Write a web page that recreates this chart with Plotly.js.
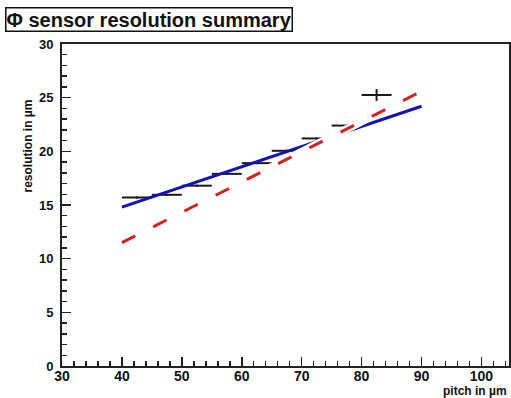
<!DOCTYPE html>
<html>
<head>
<meta charset="utf-8">
<script src="https://cdn.plot.ly/plotly-3.0.1.min.js"></script>
<style>html,body{margin:0;padding:0;background:#fff;}#chart{width:511px;height:398px;}</style>
</head>
<body>
<div id="chart"></div>
<script>
// Measured points (pitch bins, µm) and resolution (µm)
const pitch = [42.5, 47.5, 52.5, 57.5, 62.5, 67.5, 72.5, 77.5, 82.5];
const pitchErr = [2.5, 2.5, 2.5, 2.5, 2.5, 2.5, 2.5, 2.5, 2.5];
const resolution = [15.7, 15.95, 16.8, 17.9, 18.9, 20.05, 21.2, 22.4, 25.25];
const resolutionErr = [0.1, 0.1, 0.1, 0.1, 0.1, 0.1, 0.1, 0.1, 0.55];

// Fit line (blue, solid)
const fitX = [40, 90];
const fitY = [14.8, 24.2];
// Expectation line (red, dashed)
const expX = [40, 90];
const expY = [11.5, 25.6];

const titleText = "\u03A6 sensor resolution summary";
const xTitle = "pitch in \u00B5m";
const yTitle = "resolution in \u00B5m";

const font = "Liberation Sans, Arial, Helvetica, sans-serif";

const traces = [
  {x: pitch, y: resolution, type: 'scatter', mode: 'markers',
   marker: {size: 1, color: 'rgba(0,0,0,0)'},
   error_x: {type: 'data', array: pitchErr, visible: true, color: '#1a1a1a', thickness: 2, width: 0},
   error_y: {type: 'data', array: resolutionErr, visible: true, color: '#1a1a1a', thickness: 2, width: 0},
   hoverinfo: 'skip', showlegend: false},
  {x: fitX, y: fitY, type: 'scatter', mode: 'lines',
   line: {color: '#1212b8', width: 3}, showlegend: false},
  {x: expX, y: expY, type: 'scatter', mode: 'lines',
   line: {color: '#ffffff', width: 8}, showlegend: false},
  {x: expX, y: expY, type: 'scatter', mode: 'lines',
   line: {color: '#d42222', width: 3, dash: '15px,20px'}, showlegend: false}
];

const layout = {
  width: 511, height: 398,
  margin: {l: 62, r: 2, t: 44, b: 32, pad: 0},
  paper_bgcolor: '#ffffff', plot_bgcolor: '#ffffff',
  font: {family: font, color: '#111'},
  showlegend: false,
  xaxis: {
    range: [30, 104.6], tickmode: 'linear', tick0: 30, dtick: 10,
    ticks: 'inside', ticklen: 9, tickwidth: 1.5, tickcolor: '#222',
    minor: {dtick: 2, ticks: 'inside', ticklen: 5, tickwidth: 1.5, tickcolor: '#222', showgrid: false},
    showgrid: false, zeroline: false,
    showline: true, linecolor: '#222', linewidth: 2, mirror: true,
    tickfont: {family: font, size: 14, color: '#111', weight: 'bold'},
    ticklabelstandoff: -4
  },
  yaxis: {
    range: [0, 30], tickmode: 'linear', tick0: 0, dtick: 5,
    ticks: 'inside', ticklen: 9, tickwidth: 1.5, tickcolor: '#222',
    minor: {dtick: 1, ticks: 'inside', ticklen: 5, tickwidth: 1.5, tickcolor: '#222', showgrid: false},
    showgrid: false, zeroline: false,
    showline: true, linecolor: '#222', linewidth: 2, mirror: true,
    tickfont: {family: font, size: 13, color: '#111', weight: 'bold'},
    ticklabelstandoff: 4
  },
  annotations: [
    {text: '<b>' + titleText + '</b>', xref: 'paper', yref: 'paper',
     x: -0.128, y: 1.0, xanchor: 'left', yanchor: 'bottom', yshift: 12,
     showarrow: false, font: {family: font, size: 20, color: '#111'},
     bordercolor: '#111', borderwidth: 1.5, borderpad: 0, bgcolor: '#fff'},
    {text: '<b>' + xTitle + '</b>', xref: 'paper', yref: 'paper',
     x: 1.0, y: 0, xanchor: 'right', yanchor: 'top', yshift: -16,
     showarrow: false, font: {family: font, size: 12, color: '#111'}},
    {text: '<b>' + yTitle + '</b>', xref: 'paper', yref: 'paper',
     x: 0, y: 1.0, xshift: -44, yshift: -54, textangle: -90,
     showarrow: false, font: {family: font, size: 12, color: '#111'}}
  ]
};

Plotly.newPlot('chart', traces, layout, {staticPlot: true, displayModeBar: false});
</script>
</body>
</html>
